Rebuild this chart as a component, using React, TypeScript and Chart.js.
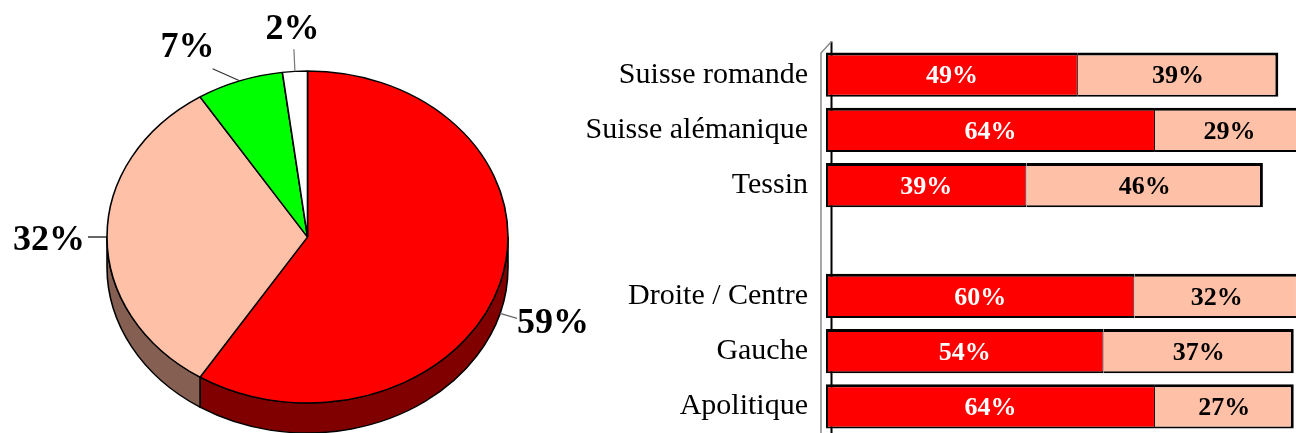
import React, { useEffect, useRef } from 'react';
import { Chart, registerables } from 'chart.js';

Chart.register(...registerables);

// ---------- data ----------
const pieCategories = ['Catégorie 1', 'Catégorie 2', 'Catégorie 3', 'Catégorie 4'];
const pieValues = [59, 32, 7, 2];
const pieColors = ['#FF0000', '#FFC0A8', '#00FF00', '#FFFFFF'];
const pieSideColors = ['#800000', '#856052', '#008000', '#808080'];

const barCategories = ['Suisse romande', 'Suisse alémanique', 'Tessin', '', 'Droite / Centre', 'Gauche', 'Apolitique'];
const barRed = [49, 64, 39, null, 60, 54, 64];
const barPink = [39, 29, 46, null, 32, 37, 27];

// ---------- style / layout ----------
const SERIF = '"Liberation Serif", "Times New Roman", serif';
const PIE_W = 615;
const PIE_H = 433;
const PIE_RADIUS = 200.5;
const PIE_TILT = 166 / 200.5;
const PIE_CENTER_Y = 237;
const PIE_DEPTH = 30;

const pieLabelLayout = [
  { lead: [17, 5], text: [0, 15], align: 'left', color: '#666' },
  { lead: [-19, 0], text: [-3, 13], align: 'right', color: '#000' },
  { lead: [-27, -12], text: [-25, -12], align: 'center', color: '#333' },
  { lead: [-1, -22], text: [-1.5, -10], align: 'center', color: '#777' },
];

const pie3dPlugin = {
  id: 'pie3d',
  beforeDatasetsDraw(chart: any) {
    const ctx = chart.ctx;
    const meta = chart.getDatasetMeta(0);
    const a0 = meta.data[0];
    const cx = a0.x, cy = a0.y, r = a0.outerRadius;
    ctx.save();
    ctx.translate(cx, PIE_CENTER_Y);
    ctx.scale(1, PIE_TILT);
    ctx.translate(-cx, -cy);
    const d = PIE_DEPTH / PIE_TILT;
    meta.data.forEach((a: any, i: number) => {
      const s = Math.max(a.startAngle, 0);
      const e = Math.min(a.endAngle, Math.PI);
      if (e <= s) return;
      ctx.beginPath();
      ctx.arc(cx, cy, r, s, e);
      ctx.arc(cx, cy + d, r, e, s, true);
      ctx.closePath();
      ctx.fillStyle = pieSideColors[i];
      ctx.fill();
      ctx.lineWidth = 1.6;
      ctx.strokeStyle = '#000';
      ctx.stroke();
    });
  },
  afterDatasetsDraw(chart: any) {
    const ctx = chart.ctx;
    ctx.restore();
    const meta = chart.getDatasetMeta(0);
    meta.data.forEach((a: any, i: number) => {
      const mid = (a.startAngle + a.endAngle) / 2;
      const r = a.outerRadius;
      const sy = Math.sin(mid);
      const ax = a.x + r * Math.cos(mid);
      const ay = PIE_CENTER_Y + r * PIE_TILT * sy + (sy > 0.05 ? PIE_DEPTH : 0);
      const L = pieLabelLayout[i];
      const ex = ax + L.lead[0];
      const ey = ay + L.lead[1];
      ctx.save();
      ctx.beginPath();
      ctx.moveTo(ax, ay);
      ctx.lineTo(ex, ey);
      ctx.lineWidth = 1.2;
      ctx.strokeStyle = L.color;
      ctx.stroke();
      ctx.fillStyle = '#000';
      ctx.font = `bold 36px ${SERIF}`;
      ctx.textAlign = L.align;
      ctx.textBaseline = 'alphabetic';
      ctx.fillText(`${pieValues[i]}%`, ex + L.text[0], ey + L.text[1]);
      ctx.restore();
    });
  },
};

const barDecorPlugin = {
  id: 'barDecor',
  beforeDatasetsDraw(chart: any) {
    const ctx = chart.ctx;
    const { left, top } = chart.chartArea;
    const bottom = chart.height;
    ctx.save();
    ctx.strokeStyle = '#000';
    ctx.lineWidth = 2;
    ctx.beginPath();
    ctx.moveTo(left + 5.5, top - 5.5);
    ctx.lineTo(left + 5.5, bottom);
    ctx.stroke();
    ctx.strokeStyle = '#8a8a8a';
    ctx.lineWidth = 1.5;
    ctx.beginPath();
    ctx.moveTo(left - 5, bottom);
    ctx.lineTo(left - 5, top + 6);
    ctx.lineTo(left + 5.5, top - 5.5);
    ctx.stroke();
    ctx.restore();
  },
  afterDatasetsDraw(chart: any) {
    const ctx = chart.ctx;
    ctx.save();
    ctx.font = `bold 26px ${SERIF}`;
    ctx.textAlign = 'center';
    ctx.textBaseline = 'middle';
    chart.data.datasets.forEach((ds: any, di: number) => {
      const meta = chart.getDatasetMeta(di);
      meta.data.forEach((el: any, j: number) => {
        const v = ds.data[j];
        if (v === null || v === undefined) return;
        ctx.fillStyle = di === 0 ? '#FFFFFF' : '#000000';
        ctx.fillText(`${v}%`, (el.x + el.base) / 2, el.y + 2);
      });
    });
    ctx.restore();
  },
};

export default function App() {
  const pieRef = useRef<HTMLCanvasElement | null>(null);
  const barRef = useRef<HTMLCanvasElement | null>(null);

  useEffect(() => {
    const pie = new Chart(pieRef.current as HTMLCanvasElement, {
      type: 'pie',
      data: {
        labels: pieCategories,
        datasets: [
          {
            data: pieValues,
            backgroundColor: pieColors,
            borderColor: '#000',
            borderWidth: 1.6,
            radius: PIE_RADIUS,
            clip: false,
          } as any,
        ],
      },
      options: {
        animation: false,
        responsive: false,
        maintainAspectRatio: false,
        events: [],
        plugins: { legend: { display: false }, tooltip: { enabled: false } },
      },
      plugins: [pie3dPlugin as any],
    });

    const bar = new Chart(barRef.current as HTMLCanvasElement, {
      type: 'bar',
      data: {
        labels: barCategories,
        datasets: [
          {
            data: barRed,
            backgroundColor: '#FF0000',
            borderColor: '#000',
            borderWidth: { top: 3, bottom: 2, left: 2, right: 1 },
            borderSkipped: false,
          } as any,
          {
            data: barPink,
            backgroundColor: '#FFC0A8',
            borderColor: '#000',
            borderWidth: { top: 3, bottom: 2, left: 0, right: 3 },
            borderSkipped: false,
          } as any,
        ],
      },
      options: {
        indexAxis: 'y',
        animation: false,
        responsive: false,
        maintainAspectRatio: false,
        events: [],
        layout: { padding: { top: 47, left: 0, right: 0, bottom: 0 } },
        datasets: { bar: { categoryPercentage: 0.8, barPercentage: 1 } },
        scales: {
          x: { stacked: true, min: 0, max: 100, display: false },
          y: {
            stacked: true,
            grid: { display: false, drawTicks: false },
            border: { display: false },
            ticks: {
              padding: 18,
              color: '#000',
              font: { family: SERIF, size: 30 },
            },
            afterFit(scale: any) {
              scale.width = 266;
              scale.paddingTop = 0;
              scale.paddingBottom = 0;
            },
          },
        },
        plugins: { legend: { display: false }, tooltip: { enabled: false } },
      } as any,
      plugins: [barDecorPlugin as any],
    });

    return () => {
      pie.destroy();
      bar.destroy();
    };
  }, []);

  return (
    <div
      style={{
        position: 'fixed',
        left: 0,
        top: 0,
        width: 1296,
        height: 433,
        overflow: 'hidden',
        background: '#fff',
      }}
    >
      <canvas
        ref={pieRef}
        width={PIE_W}
        height={PIE_H}
        style={{ position: 'absolute', left: 0, top: 0, width: PIE_W, height: PIE_H }}
      />
      <canvas
        ref={barRef}
        width={780}
        height={434}
        style={{ position: 'absolute', left: 560, top: 0, width: 780, height: 434 }}
      />
    </div>
  );
}
